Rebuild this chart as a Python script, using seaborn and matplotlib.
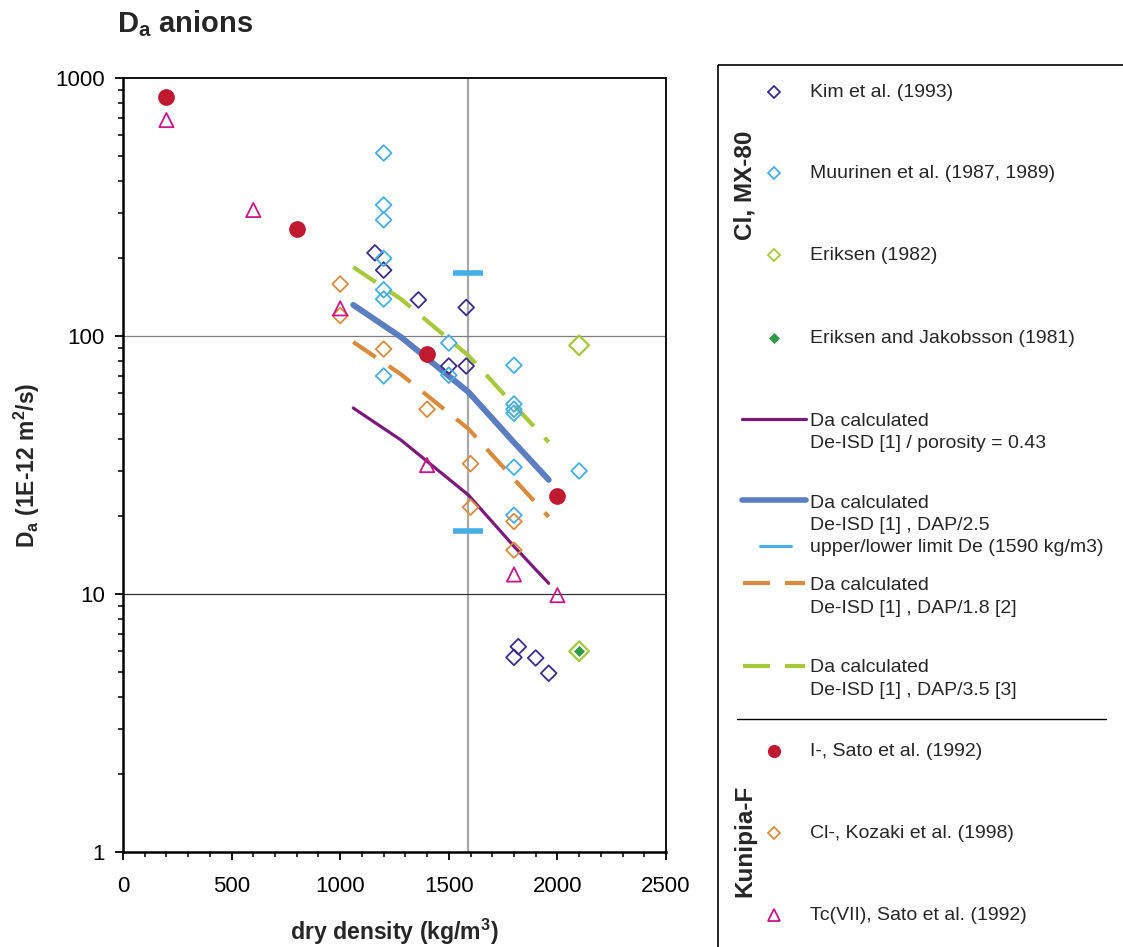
import numpy as np
import pandas as pd
import matplotlib
matplotlib.use("Agg")
import matplotlib.pyplot as plt
import seaborn as sns
from matplotlib.patches import Rectangle
from matplotlib.ticker import MultipleLocator, LogLocator, NullFormatter

# ---------------- data ----------------
kim_x = [1160, 1200, 1360, 1580, 1500, 1580, 1820, 1800, 1900, 1960]
kim_y = [210, 180, 138, 129, 76.5, 76.5, 6.25, 5.68, 5.65, 4.93]

muur_x = [1200, 1200, 1200, 1200, 1200, 1200, 1200, 1500, 1500,
          1800, 1800, 1800, 1800, 1800, 1800, 2100]
muur_y = [512, 322, 282, 200, 151, 139, 70, 94, 70.5,
          77, 54.5, 52, 50.2, 31, 20.2, 30]

eriksen_x = [2100, 2100]
eriksen_y = [92, 6.0]

ej_x = [2100]
ej_y = [6.0]

sato_i_x = [200, 800, 1400, 2000]
sato_i_y = [844, 260, 85, 24]

kozaki_x = [1000, 1000, 1200, 1400, 1600, 1600, 1800, 1800]
kozaki_y = [159, 120, 89, 52, 32, 21.7, 19.1, 14.8]

tc_x = [200, 600, 1000, 1400, 1800, 2000]
tc_y = [687, 308, 128, 31.6, 11.9, 9.9]

calc_x = [1060, 1280, 1590, 1800, 1960]
calc_porosity = [52.6, 39.5, 24.2, 15.3, 11.0]
calc_dap25 = [132, 99, 60.7, 38.7, 27.7]
calc_dap18 = [94.8, 71, 43.7, 27.9, 19.9]
calc_dap35 = [185, 139, 84, 54, 38.8]

limit_x = [1590, 1590]
limit_y = [176, 17.5]

x_ticks = [0, 500, 1000, 1500, 2000, 2500]
y_ticks = [1, 10, 100, 1000]
y_tick_labels = ["1", "10", "100", "1000"]

# ---------------- style ----------------
sns.set_style("ticks")
plt.rcParams["font.family"] = ["Liberation Sans", "DejaVu Sans"]
plt.rcParams["mathtext.fontset"] = "custom"
plt.rcParams["mathtext.rm"] = "Liberation Sans"
plt.rcParams["mathtext.bf"] = "Liberation Sans:bold"
plt.rcParams["mathtext.it"] = "Liberation Sans:italic"

C_KIM = "#3b2c8c"
C_MUUR = "#45aee8"
C_ERIK = "#a6c83a"
C_EJ = "#2e9a48"
C_RED = "#c01a30"
C_ORANGE = "#da8a3c"
C_MAG = "#cc1488"
C_PURPLE = "#7b1a7b"
C_BLUE = "#5a7ec0"
C_LIM = "#45aee8"

W, H = 1123, 947
fig = plt.figure(figsize=(W / 100, H / 100), dpi=100)
fig.patch.set_facecolor("white")

L, R, T, B = 123, 666, 78, 852
ax = fig.add_axes([L / W, 1 - B / H, (R - L) / W, (B - T) / H])
ax.set_facecolor("white")
ax.set_xscale("linear")
ax.set_yscale("log")
ax.set_xlim(0, 2500)
ax.set_ylim(1, 1000)

# grid lines
ax.axvline(1590, color="#a8a8a8", lw=1.6, zorder=1)
ax.axhline(100, color="#7f7f7f", lw=0.9, zorder=1)
ax.axhline(10, color="#303030", lw=0.9, zorder=1)

# calculated lines
sns.lineplot(x=calc_x, y=calc_porosity, ax=ax, color=C_PURPLE, linewidth=2.3,
             estimator=None, sort=False, zorder=3, solid_capstyle="round")
sns.lineplot(x=calc_x, y=calc_dap25, ax=ax, color=C_BLUE, linewidth=4.3,
             estimator=None, sort=False, zorder=3, solid_capstyle="round")
sns.lineplot(x=calc_x, y=calc_dap18, ax=ax, color=C_ORANGE, linewidth=3.0,
             estimator=None, sort=False, zorder=3, linestyle=(0, (6.5, 3.8)),
             dash_capstyle="butt")
sns.lineplot(x=calc_x, y=calc_dap35, ax=ax, color=C_ERIK, linewidth=3.0,
             estimator=None, sort=False, zorder=3, linestyle=(0, (6.5, 3.8)),
             dash_capstyle="butt")

# limit bars
sns.lineplot(x=limit_x, y=limit_y, ax=ax, color=C_LIM, linestyle="none",
             marker="_", markersize=21, markeredgewidth=4.0,
             markeredgecolor=C_LIM, markerfacecolor=C_LIM, estimator=None,
             sort=False, zorder=4)

# scatter series
def open_diamond(x, y, c, s=64, lw=1.3):
    sns.scatterplot(x=x, y=y, ax=ax, marker="D", s=s, color=c,
                    facecolor="none", edgecolor=c, linewidth=lw, zorder=5)

open_diamond(kim_x, kim_y, C_KIM)
open_diamond(muur_x, muur_y, C_MUUR)
open_diamond(kozaki_x, kozaki_y, C_ORANGE)
open_diamond(eriksen_x, eriksen_y, C_ERIK, s=100, lw=1.6)
sns.scatterplot(x=ej_x, y=ej_y, ax=ax, marker="D", s=26, color=C_EJ,
                edgecolor=C_EJ, linewidth=0.5, zorder=6)
sns.scatterplot(x=sato_i_x, y=sato_i_y, ax=ax, marker="o", s=145, color=C_RED,
                edgecolor=C_RED, linewidth=0, zorder=6)
sns.scatterplot(x=tc_x, y=tc_y, ax=ax, marker="^", s=105, color=C_MAG,
                facecolor="none", edgecolor=C_MAG, linewidth=1.3, zorder=6)

# axes formatting
for sp in ax.spines.values():
    sp.set_visible(True)
    sp.set_color("black")
    sp.set_linewidth(1.3)
ax.spines["left"].set_linewidth(1.8)
ax.spines["bottom"].set_linewidth(1.8)

ax.set_xticks(x_ticks)
ax.set_xticklabels([str(v) for v in x_ticks])
ax.xaxis.set_minor_locator(MultipleLocator(100))
ax.set_yticks(y_ticks)
ax.set_yticklabels(y_tick_labels)
ax.yaxis.set_minor_locator(LogLocator(base=10, subs=np.arange(2, 10)))
ax.yaxis.set_minor_formatter(NullFormatter())
ax.tick_params(axis="both", which="major", direction="out", length=6,
               width=1.3, labelsize=16, colors="black")
ax.tick_params(axis="both", which="minor", direction="out", length=3.5,
               width=1.3)
ax.tick_params(axis="x", which="major", pad=11)
ax.tick_params(axis="y", which="major", pad=7)
ax.set_xlabel("")
ax.set_ylabel("")

# labels and title
fig.text(117 / W, 1 - 32 / H, r"$\mathbf{D_a}$ anions", fontsize=21,
         fontweight="bold", ha="left", va="baseline")
fig.text(394 / W, 1 - 940 / H, r"dry density (kg/m$^\mathbf{3}$)", fontsize=16.6,
         fontweight="bold", ha="center", va="baseline")
fig.text(27 / W, 1 - 465 / H, r"$\mathbf{D_a}$ (1E-12 m$^\mathbf{2}$/s)",
         fontsize=16.5, fontweight="bold", ha="center", va="center", rotation=90)

# ---------------- legend panel ----------------
ov = fig.add_axes([0, 0, 1, 1])
ov.set_xlim(0, W)
ov.set_ylim(H, 0)
ov.axis("off")
ov.patch.set_visible(False)

ov.add_patch(Rectangle((717.5, 64.5), 1000, 1000, fill=False,
                       edgecolor="black", lw=1.2))
LFS = 14
mx, tx = 774, 810

def leg_text(y, s):
    ov.text(tx, y, s, fontsize=LFS, ha="left", va="center")

ov.plot([mx], [92], marker="D", ms=6.0, mfc="none", mec=C_KIM, mew=1.3)
leg_text(92, "Kim et al. (1993)")
ov.plot([mx], [173], marker="D", ms=6.0, mfc="none", mec=C_MUUR, mew=1.3)
leg_text(173, "Muurinen et al. (1987, 1989)")
ov.plot([mx], [255], marker="D", ms=6.0, mfc="none", mec=C_ERIK, mew=1.3)
leg_text(255, "Eriksen (1982)")
ov.plot([mx], [338], marker="D", ms=5.6, mfc=C_EJ, mec=C_EJ, mew=0.5)
leg_text(338, "Eriksen and Jakobsson (1981)")

ov.plot([742, 806], [419, 419], color=C_PURPLE, lw=2.3, solid_capstyle="round")
leg_text(421, "Da calculated")
leg_text(443, "De-ISD [1] / porosity = 0.43")

ov.plot([742, 806], [500, 500], color=C_BLUE, lw=4.0, solid_capstyle="round")
leg_text(503, "Da calculated")
leg_text(525, "De-ISD [1] , DAP/2.5")
ov.plot([760, 791], [546, 546], color=C_LIM, lw=2.2)
leg_text(547, "upper/lower limit De (1590 kg/m3)")

ov.plot([743, 770], [583, 583], color=C_ORANGE, lw=3.0, solid_capstyle="butt")
ov.plot([785, 805], [583, 583], color=C_ORANGE, lw=3.0, solid_capstyle="butt")
leg_text(585, "Da calculated")
leg_text(608, "De-ISD [1] , DAP/1.8 [2]")

ov.plot([743, 770], [666, 666], color=C_ERIK, lw=3.0, solid_capstyle="butt")
ov.plot([785, 805], [666, 666], color=C_ERIK, lw=3.0, solid_capstyle="butt")
leg_text(667, "Da calculated")
leg_text(690, "De-ISD [1] , DAP/3.5 [3]")

ov.plot([737, 1106], [719, 719], color="black", lw=1.0)

ov.plot([mx], [751], marker="o", ms=9.5, mfc=C_RED, mec=C_RED, mew=0)
leg_text(751, "I-, Sato et al. (1992)")
ov.plot([mx], [833], marker="D", ms=6.0, mfc="none", mec=C_ORANGE, mew=1.3)
leg_text(833, "Cl-, Kozaki et al. (1998)")
ov.plot([mx], [915], marker="^", ms=8.5, mfc="none", mec=C_MAG, mew=1.3)
leg_text(915, "Tc(VII), Sato et al. (1992)")

ov.text(745, 185, "Cl, MX-80", fontsize=17.5, fontweight="bold", rotation=90,
        ha="center", va="center")
ov.text(745, 841, "Kunipia-F", fontsize=17.5, fontweight="bold", rotation=90,
        ha="center", va="center")

fig.savefig("out.png", dpi=100, facecolor="white")
